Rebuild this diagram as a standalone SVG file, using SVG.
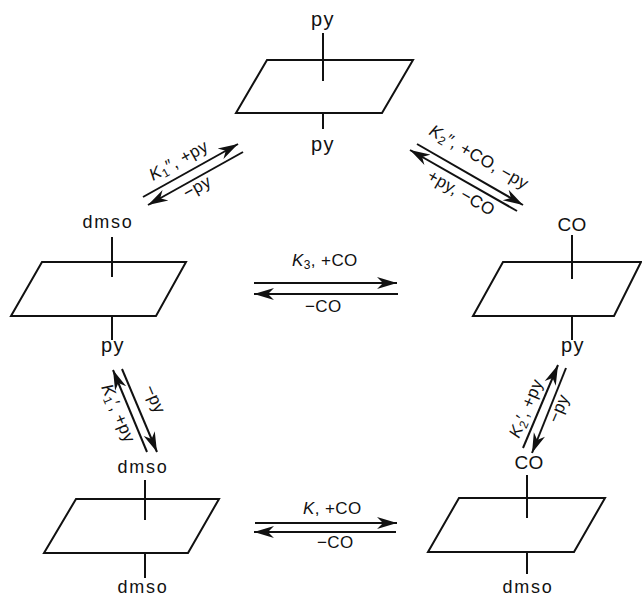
<svg xmlns="http://www.w3.org/2000/svg" width="642" height="598" viewBox="0 0 642 598">
<style>
.p{fill:none;stroke:#111;stroke-width:2;stroke-linejoin:miter}
.s{stroke:#111;stroke-width:2;fill:none}
.a{stroke:#111;stroke-width:2;fill:none;marker-end:url(#h)}
text{font-family:"Liberation Sans",Arial,sans-serif;fill:#111;font-size:17px}
.c{text-anchor:middle}
.py{font-size:20px;letter-spacing:1.5px}
.dm{font-size:18px;letter-spacing:1.8px}
.co{font-size:19px;letter-spacing:.3px}
.k{font-style:italic}
.sub{font-size:12px}
.w{letter-spacing:.4px}
</style>
<defs>
<marker id="h" markerUnits="userSpaceOnUse" markerWidth="22" markerHeight="14" refX="20" refY="7" orient="auto">
<path d="M0 1 L20 7 L0 13 L6 7Z" fill="#111"/>
</marker>
</defs>
<rect width="642" height="598" fill="#fff"/>
<g id="connectors">
<path class="a" d="M143 197L238 144"/>
<path class="a" d="M243 152L148 205"/>
<path class="a" d="M417 144L523 205"/>
<path class="a" d="M517 211L410 150"/>
<path class="a" d="M254 283L397 283"/>
<path class="a" d="M398 294L254 294"/>
<path class="a" d="M255 523L397 523"/>
<path class="a" d="M396 532L254 532"/>
<path class="a" d="M147 452L113 370"/>
<path class="a" d="M122 369L157 452"/>
<path class="a" d="M523 448L558 365"/>
<path class="a" d="M566 368L532 453"/>
</g>
<g id="node-top">
<path class="p" d="M267 60H413L382 113H236Z"/>
<path class="s" d="M323 33V81M323 113V129"/>
<text class="c py" x="323" y="26">py</text>
<text class="c py" x="323" y="151">py</text>
</g>
<g id="node-mid-left">
<path class="p" d="M42 262H186L156 316H11Z"/>
<path class="s" d="M112 237V277M112 316V340"/>
<text class="c dm" x="108" y="228">dmso</text>
<text class="c py" x="113" y="352">py</text>
</g>
<g id="node-mid-right">
<path class="p" d="M503 262H641L614 316H473Z"/>
<path class="s" d="M572 235V279M572 316V340"/>
<text class="c co" x="572" y="231">CO</text>
<text class="c py" x="573" y="352">py</text>
</g>
<g id="node-bottom-left">
<path class="p" d="M76 499H219L188 553H44Z"/>
<path class="s" d="M145 480V520M145 553V578"/>
<text class="c dm" x="143" y="473">dmso</text>
<text class="c dm" x="143" y="593">dmso</text>
</g>
<g id="node-bottom-right">
<path class="p" d="M459 498H605L574 552H428Z"/>
<path class="s" d="M527 475V518M527 552V574"/>
<text class="c co" x="529" y="469">CO</text>
<text class="c dm" x="528" y="593">dmso</text>
</g>
<g id="labels">
<text class="w" transform="translate(153 181) rotate(-29)"><tspan class="k">K</tspan><tspan class="sub" dy="3">1</tspan><tspan dy="-3">″, +py</tspan></text>
<text class="w" transform="translate(187 199) rotate(-29)">−py</text>
<text class="w" transform="translate(428 134) rotate(30)"><tspan class="k">K</tspan><tspan class="sub" dy="3">2</tspan><tspan dy="-3">″, +CO, −py</tspan></text>
<text class="w" transform="translate(426 179) rotate(30)">+py, −CO</text>
<text class="w" x="292" y="266"><tspan class="k">K</tspan><tspan class="sub" dy="3">3</tspan><tspan dy="-3">, +CO</tspan></text>
<text class="w" x="305" y="312">−CO</text>
<text class="w" x="303" y="514"><tspan class="k">K</tspan>, +CO</text>
<text class="w" x="317" y="548">−CO</text>
<text class="w" transform="translate(101 387) rotate(67)"><tspan class="k">K</tspan><tspan class="sub" dy="3">1</tspan><tspan dy="-3">′, +py</tspan></text>
<text class="w" transform="translate(144 388) rotate(67)">−py</text>
<text class="w" transform="translate(519 439) rotate(-67)"><tspan class="k">K</tspan><tspan class="sub" dy="3">2</tspan><tspan dy="-3">′, +py</tspan></text>
<text class="w" transform="translate(558 424) rotate(-67)">−py</text>
</g>
</svg>
